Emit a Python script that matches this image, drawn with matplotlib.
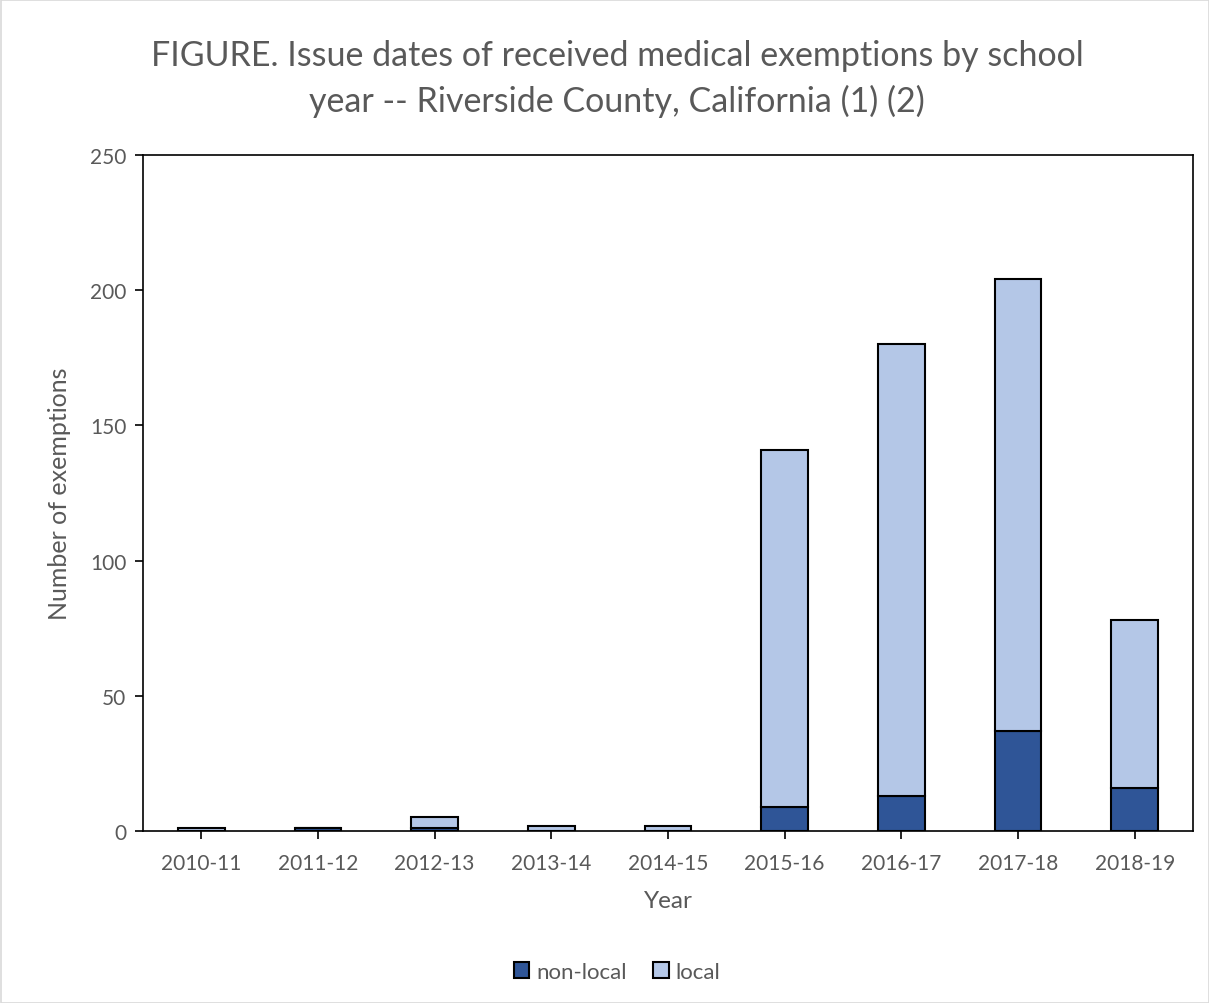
import matplotlib
matplotlib.use("Agg")
import matplotlib.pyplot as plt
import numpy as np
from matplotlib.patches import Rectangle

years = ["2010-11", "2011-12", "2012-13", "2013-14", "2014-15",
         "2015-16", "2016-17", "2017-18", "2018-19"]
non_local = [0, 1, 1, 0, 0, 9, 13, 37, 16]
local = [1, 0, 4, 2, 2, 132, 167, 167, 62]

plt.rcParams['font.family'] = ['Lato', 'DejaVu Sans']
gray = '#595959'

fig = plt.figure(figsize=(12.09, 10.04), dpi=100)
ax = fig.add_axes([143/1209, 1 - 832/1004, (1193-143)/1209, (832-156)/1004])

x = np.arange(len(years))
w = 0.4
ax.bar(x, non_local, w, color='#2f5597', edgecolor='black', linewidth=1.5, label='non-local')
ax.bar(x, local, w, bottom=non_local, color='#b4c7e7', edgecolor='black', linewidth=1.5, label='local')

ax.set_xlim(-0.5, len(years) - 0.5)
ax.set_ylim(0, 250)
ax.set_yticks([0, 50, 100, 150, 200, 250])
ax.set_xticks(x)
ax.set_xticklabels(years)
for s in ax.spines.values():
    s.set_color('black')
    s.set_linewidth(1.2)
ax.tick_params(axis='both', colors='black', labelcolor=gray, labelsize=15, direction='out', length=6, width=1.2)
ax.tick_params(axis='x', pad=10)
ax.tick_params(axis='y', pad=6)

ax.set_xlabel('Year', color=gray, fontsize=17.5, labelpad=12)
ax.set_ylabel('Number of exemptions', color=gray, fontsize=18, labelpad=14)

fig.text(617/1209, 1 - 56/1004, 'FIGURE. Issue dates of received medical exemptions by school',
         ha='center', va='center', fontsize=24.5, color=gray)
fig.text(617/1209, 1 - 101/1004, 'year -- Riverside County, California (1) (2)',
         ha='center', va='center', fontsize=24.5, color=gray)

leg = fig.legend(loc='center', bbox_to_anchor=(617/1209, 1 - 973/1004), ncol=2, frameon=False,
                 fontsize=16, handlelength=0.7, handleheight=0.7, handletextpad=0.3, columnspacing=1.2)
for t in leg.get_texts():
    t.set_color(gray)

fig.patches.append(Rectangle((0.5/1209, 0.5/1004), 1 - 1/1209, 1 - 1/1004, transform=fig.transFigure,
                             fill=False, edgecolor='#d9d9d9', linewidth=1.2))

fig.savefig('out.png', dpi=100)
